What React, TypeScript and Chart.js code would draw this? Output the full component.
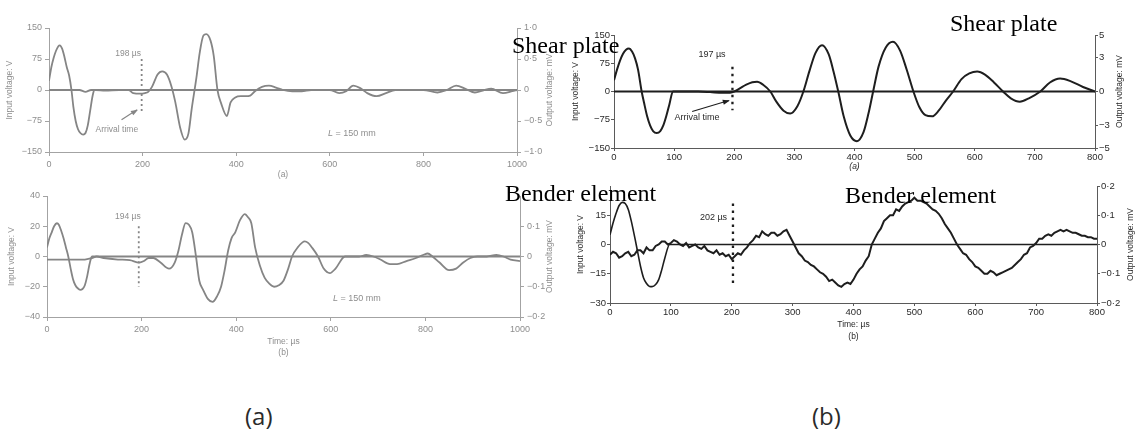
import React, { useEffect, useRef } from 'react';
import { Chart, registerables } from 'chart.js';

Chart.register(...registerables);

const SANS = "'Liberation Sans', Arial, sans-serif";
const SERIF = "'Liberation Serif', 'Times New Roman', serif";

// ---------------- Left column (a) top: shear plate, L = 150 mm ----------------
const ltTimeTicks = [0, 200, 400, 600, 800, 1000];
const ltInputTicks = [-150, -75, 0, 75, 150];
const ltOutputTicks = [-1, -0.5, 0, 0.5, 1];
const ltInputTime = [0, 5, 10, 15, 20, 23, 28, 33, 38, 43, 48, 52, 57, 62, 67, 73, 78, 83, 88, 93, 97, 1000];
const ltInputV = [22, 55, 78, 95, 106, 108, 100, 80, 55, 35, 0, -40, -75, -95, -104, -108, -104, -85, -50, -15, 0, 0];
const ltOutputTime = [0, 65, 78, 90, 100, 120, 150, 170, 180, 195, 205, 212, 220, 232, 242, 252, 262, 270, 280, 290, 298, 305, 315, 322, 330, 336, 345, 352, 360, 368, 380, 388, 398, 410, 420, 430, 440, 455, 470, 485, 500, 520, 540, 560, 600, 620, 635, 650, 665, 680, 700, 720, 740, 800, 830, 850, 870, 890, 910, 930, 945, 970, 990, 1000];
const ltOutputMV = [0, 0, -0.03, 0, 0, -0.01, 0, 0, -0.05, -0.06, -0.05, -0.03, 0.05, 0.25, 0.3, 0.25, 0.05, -0.2, -0.6, -0.8, -0.7, -0.3, 0.2, 0.6, 0.88, 0.9, 0.8, 0.55, 0, -0.22, -0.42, -0.2, -0.12, -0.1, -0.1, -0.09, -0.02, 0.05, 0.07, 0.04, 0, -0.02, -0.02, 0, 0, -0.05, -0.02, 0.07, 0.03, -0.05, -0.1, -0.05, 0, 0, -0.04, 0, 0.07, 0.02, -0.04, 0, 0.02, -0.05, -0.02, 0];

// ---------------- Left column (b) bottom: bender element, L = 150 mm ----------------
const lbTimeTicks = [0, 200, 400, 600, 800, 1000];
const lbInputTicks = [-40, -20, 0, 20, 40];
const lbOutputTicks = [-0.2, -0.1, 0, 0.1];
const lbInputTime = [0, 5, 10, 15, 21, 25, 30, 35, 40, 45, 50, 55, 60, 65, 70, 75, 80, 85, 90, 95, 1000];
const lbInputV = [6, 12, 16, 20, 22, 21, 17, 12, 6, 0, -8, -15, -19, -21, -22, -21.5, -19, -13, -5, 0, 0];
const lbOutputTime = [0, 50, 80, 95, 105, 120, 150, 175, 195, 205, 215, 225, 240, 258, 270, 278, 285, 293, 300, 307, 315, 322, 330, 340, 350, 360, 368, 375, 383, 390, 398, 408, 418, 425, 432, 440, 450, 460, 470, 480, 490, 500, 510, 518, 530, 545, 552, 560, 573, 585, 598, 610, 630, 660, 675, 690, 705, 725, 740, 760, 780, 795, 805, 815, 830, 850, 865, 880, 895, 910, 930, 950, 965, 980, 1000];
const lbOutputMV = [-0.01, -0.01, -0.01, -0.005, 0, -0.005, -0.01, -0.012, -0.02, -0.015, -0.005, -0.005, -0.02, -0.04, -0.02, 0.02, 0.07, 0.11, 0.105, 0.08, 0, -0.08, -0.11, -0.14, -0.15, -0.13, -0.1, -0.05, 0.02, 0.06, 0.08, 0.12, 0.14, 0.13, 0.11, 0.03, -0.03, -0.07, -0.09, -0.1, -0.095, -0.08, -0.04, 0, 0.03, 0.05, 0.045, 0.03, 0, -0.04, -0.055, -0.04, 0, 0, 0.005, 0, -0.01, -0.025, -0.025, -0.015, -0.005, 0.005, 0.01, 0, -0.02, -0.045, -0.04, -0.02, -0.005, 0, 0, 0.005, 0, -0.01, -0.015];

// ---------------- Right column (a) top: shear plate ----------------
const rtTimeTicks = [0, 100, 200, 300, 400, 500, 600, 700, 800];
const rtInputTicks = [-150, -75, 0, 75, 150];
const rtOutputTicks = [-5, -3, 0, 3, 5];
const rtInputTime = [0, 5, 10, 15, 20, 25, 30, 35, 40, 46, 50, 55, 60, 65, 71, 77, 82, 87, 92, 98, 800];
const rtInputV = [30, 58, 82, 100, 111, 114, 106, 88, 58, 0, -30, -65, -90, -105, -110, -105, -90, -65, -35, 0, 0];
const rtOutputTime = [0, 140, 160, 180, 193, 200, 210, 220, 230, 238, 248, 260, 270, 282, 293, 305, 315, 325, 335, 346, 357, 365, 373, 382, 393, 404, 415, 423, 431, 440, 452, 464, 476, 487, 498, 508, 518, 529, 540, 552, 564, 578, 591, 604, 617, 632, 647, 660, 675, 690, 709, 725, 742, 760, 780, 800];
const rtOutputMV = [0, 0, -0.05, -0.12, -0.1, 0, 0.3, 0.6, 0.82, 0.87, 0.6, 0, -0.9, -1.7, -1.95, -1.3, 0, 1.8, 3.4, 4.1, 3.3, 1.8, 0, -2.2, -3.9, -4.4, -3.6, -2.0, 0, 2.2, 3.9, 4.4, 3.6, 1.9, 0, -1.4, -2.1, -2.2, -1.7, -0.8, 0, 1.1, 1.6, 1.77, 1.5, 0.8, 0, -0.6, -0.9, -0.6, 0, 0.8, 1.15, 0.9, 0.4, 0];

// ---------------- Right column (b) bottom: bender element ----------------
const rbTimeTicks = [0, 100, 200, 300, 400, 500, 600, 700, 800];
const rbInputTicks = [-30, -15, 0, 15];
const rbOutputTicks = [-0.2, -0.1, 0, 0.1, 0.2];
const rbInputTime = [0, 5, 10, 15, 20, 25, 30, 35, 43, 50, 55, 60, 65, 69, 75, 80, 85, 90, 98, 800];
const rbInputV = [5, 11, 16, 20, 21.6, 21, 18, 12, 0, -11, -17, -20, -21.5, -21.6, -20.5, -18, -13, -7, 0, 0];
const rbOutputStep = 5; // µs between samples of the recorded trace
const rbOutputMV = [
  -0.035, -0.025, -0.03, -0.045, -0.04, -0.03, -0.025, -0.04, -0.035, -0.02,
  -0.02, -0.03, -0.01, -0.02, -0.02, -0.005, 0.0, 0.01, 0.01, 0.0,
  0.005, 0.015, 0.01, 0.0, -0.005, 0.005, -0.01, -0.005, 0.0, -0.01,
  -0.015, -0.005, -0.02, -0.025, -0.03, -0.02, -0.035, -0.03, -0.04, -0.035,
  -0.05, -0.04, -0.03, -0.035, -0.02, -0.01, 0.005, 0.015, 0.03, 0.025,
  0.045, 0.035, 0.03, 0.04, 0.04, 0.03, 0.035, 0.045, 0.05, 0.03,
  0.01, -0.01, -0.03, -0.04, -0.055, -0.06, -0.07, -0.075, -0.085, -0.095,
  -0.1, -0.11, -0.125, -0.12, -0.13, -0.14, -0.145, -0.135, -0.13, -0.135,
  -0.12, -0.1, -0.085, -0.075, -0.055, -0.04, 0.0, 0.02, 0.04, 0.055,
  0.08, 0.09, 0.1, 0.1, 0.12, 0.115, 0.13, 0.14, 0.145, 0.15,
  0.16, 0.15, 0.15, 0.145, 0.14, 0.13, 0.12, 0.115, 0.105, 0.09,
  0.07, 0.055, 0.04, 0.02, 0.0, -0.015, -0.03, -0.035, -0.05, -0.06,
  -0.075, -0.08, -0.09, -0.1, -0.1, -0.09, -0.095, -0.105, -0.1, -0.095,
  -0.09, -0.085, -0.08, -0.07, -0.06, -0.05, -0.035, -0.03, -0.01, -0.005,
  0.005, 0.02, 0.02, 0.03, 0.035, 0.03, 0.04, 0.045, 0.05, 0.045,
  0.05, 0.045, 0.04, 0.04, 0.035, 0.03, 0.03, 0.025, 0.025, 0.02,
  0.02,
];
const rbOutputTime = rbOutputMV.map((_, i) => i * rbOutputStep);

// ---------------- Annotations (in data units) ----------------
const ltMarker = { time: 198, from: 75, to: -55, label: '198 µs', labelT: 169, labelV: 88 };
const ltArrival = { text: 'Arrival time', t: 145, v: -97, fromT: 155, fromV: -72, toT: 188, toV: -48 };
const ltLength = { t: 647, v: -106 };
const lbMarker = { time: 194, from: 20, to: -20, label: '194 µs', labelT: 171, labelV: 26.5 };
const lbLength = { t: 655, v: -28 };
const rtMarker = { time: 197, from: 66, to: -50, label: '197 µs', labelT: 163, labelV: 97 };
const rtArrival = { text: 'Arrival time', t: 138, v: -69, fromT: 130, fromV: -53, toT: 191, toV: -24 };
const rbMarker = { time: 202, from: 21, to: -22, label: '202 µs', labelT: 170, labelV: 14 };

type Theme = { trace: string; axis: string; text: string };
const GREY: Theme = { trace: '#858585', axis: '#a3a3a3', text: '#8e8e8e' };
const DARK: Theme = { trace: '#1e1e1e', axis: '#5a5a5a', text: '#2a2a2a' };

const zip = (t: number[], v: number[]) => t.map((x, i) => ({ x, y: v[i] }));
const fmtInt = (v: number) => (v < 0 ? '\u2212' : '') + Math.abs(v);
const fmtDot = (v: number) => (v === 0 ? '0' : (v < 0 ? '\u2212' : '') + Math.abs(v).toFixed(1).replace('.', '\u00b7'));

interface Marker { time: number; from: number; to: number; label: string; labelT: number; labelV: number }
interface Arrival { text: string; t: number; v: number; fromT: number; fromV: number; toT: number; toV: number }

interface PanelSpec {
  left: number; top: number; width: number; height: number;
  leftW: number; rightW: number; xH: number; padTop: number;
  xMax: number; xTicks: number[]; xTitle: string[]; xTitlePad: number; xTitleItalic: boolean;
  yMin: number; yMax: number; yTicks: number[]; yTitlePad: number;
  y1Min: number; y1Max: number; y1Ticks: number[]; y1TitleOffset: number;
  y1Fmt: (v: number) => string;
  theme: Theme; tickSize: number; titleSize: number; titleLH: number; tickLen: number; tickPad: number;
  input: { x: number; y: number }[]; output: { x: number; y: number }[];
  inputWidth: number; outputWidth: number; outputSmooth: boolean;
  marker: Marker; dash: number[]; dashWidth: number; noteSize: number;
  arrival?: Arrival; length?: { t: number; v: number };
}

const panels: PanelSpec[] = [
  {
    left: 0, top: 8, width: 560, height: 174, leftW: 49, rightW: 43, xH: 30, padTop: 20,
    xMax: 1000, xTicks: ltTimeTicks, xTitle: ['(a)'], xTitlePad: 2, xTitleItalic: false,
    yMin: -150, yMax: 150, yTicks: ltInputTicks, yTitlePad: 5,
    y1Min: -1, y1Max: 1, y1Ticks: ltOutputTicks, y1TitleOffset: 10, y1Fmt: fmtDot,
    theme: GREY, tickSize: 9, titleSize: 8.5, titleLH: 1.2, tickLen: 4, tickPad: 3,
    input: zip(ltInputTime, ltInputV), output: zip(ltOutputTime, ltOutputMV),
    inputWidth: 1.8, outputWidth: 1.8, outputSmooth: true,
    marker: ltMarker, dash: [2, 3], dashWidth: 1.8, noteSize: 8.5, arrival: ltArrival, length: ltLength,
  },
  {
    left: 0, top: 180, width: 560, height: 180, leftW: 47, rightW: 40, xH: 43, padTop: 16,
    xMax: 1000, xTicks: lbTimeTicks, xTitle: ['Time: µs', '(b)'], xTitlePad: 2, xTitleItalic: false,
    yMin: -40, yMax: 40, yTicks: lbInputTicks, yTitlePad: 6,
    y1Min: -0.2, y1Max: 0.2, y1Ticks: lbOutputTicks, y1TitleOffset: 10, y1Fmt: fmtDot,
    theme: GREY, tickSize: 9, titleSize: 8.5, titleLH: 1.3, tickLen: 4, tickPad: 3,
    input: zip(lbInputTime, lbInputV), output: zip(lbOutputTime, lbOutputMV),
    inputWidth: 1.8, outputWidth: 1.8, outputSmooth: true,
    marker: lbMarker, dash: [2, 3], dashWidth: 1.8, noteSize: 8.5, length: lbLength,
  },
  {
    left: 570, top: 10, width: 566, height: 170, leftW: 44, rightW: 41, xH: 32, padTop: 25,
    xMax: 800, xTicks: rtTimeTicks, xTitle: ['(a)'], xTitlePad: 8, xTitleItalic: true,
    yMin: -150, yMax: 150, yTicks: rtInputTicks, yTitlePad: 1,
    y1Min: -5, y1Max: 5, y1Ticks: rtOutputTicks, y1TitleOffset: 16, y1Fmt: fmtInt,
    theme: DARK, tickSize: 9.5, titleSize: 8.5, titleLH: 1.2, tickLen: 3, tickPad: 1,
    input: zip(rtInputTime, rtInputV), output: zip(rtOutputTime, rtOutputMV),
    inputWidth: 2, outputWidth: 2, outputSmooth: true,
    marker: rtMarker, dash: [2.5, 4.5], dashWidth: 2.3, noteSize: 9, arrival: rtArrival,
  },
  {
    left: 566, top: 176, width: 570, height: 184, leftW: 44, rightW: 39, xH: 57, padTop: 10,
    xMax: 800, xTicks: rbTimeTicks, xTitle: ['Time: µs', '(b)'], xTitlePad: 17, xTitleItalic: false,
    yMin: -30, yMax: 30, yTicks: rbInputTicks, yTitlePad: 8,
    y1Min: -0.2, y1Max: 0.2, y1Ticks: rbOutputTicks, y1TitleOffset: 5, y1Fmt: fmtDot,
    theme: DARK, tickSize: 9.5, titleSize: 8.5, titleLH: 1.45, tickLen: 3, tickPad: 1,
    input: zip(rbInputTime, rbInputV), output: zip(rbOutputTime, rbOutputMV),
    inputWidth: 1.6, outputWidth: 2, outputSmooth: false,
    marker: rbMarker, dash: [2.5, 4.5], dashWidth: 2.3, noteSize: 9,
  },
];

function Panel({ spec }: { spec: PanelSpec }) {
  const ref = useRef<HTMLCanvasElement>(null);
  useEffect(() => {
    const canvas = ref.current;
    if (!canvas) return;
    const th = spec.theme;
    const tickFont = { family: SANS, size: spec.tickSize };
    const titleFont = { family: SANS, size: spec.titleSize, lineHeight: spec.titleLH };
    const fixTicks = (vals: number[]) => (s: any) => {
      s.ticks = vals.map((v) => ({ value: v }));
    };
    const grid = { display: true, drawOnChartArea: false, drawTicks: true, tickLength: spec.tickLen, color: th.axis, lineWidth: 1 };
    const border = { display: true, color: th.axis, width: 1 };

    const notes = {
      id: 'notes',
      afterDatasetsDraw(chart: any) {
        const ctx = chart.ctx as CanvasRenderingContext2D;
        const xs = chart.scales.x;
        const ys = chart.scales.y;
        const px = (t: number) => xs.getPixelForValue(t);
        const py = (v: number) => ys.getPixelForValue(v);
        const m = spec.marker;
        ctx.save();
        ctx.strokeStyle = th.trace;
        ctx.lineWidth = spec.dashWidth;
        ctx.setLineDash(spec.dash);
        ctx.beginPath();
        ctx.moveTo(px(m.time), py(m.from));
        ctx.lineTo(px(m.time), py(m.to));
        ctx.stroke();
        ctx.setLineDash([]);
        ctx.fillStyle = th.text;
        ctx.font = `${spec.noteSize}px ${SANS}`;
        ctx.textAlign = 'center';
        ctx.textBaseline = 'middle';
        ctx.fillText(m.label, px(m.labelT), py(m.labelV));
        const a = spec.arrival;
        if (a) {
          ctx.fillText(a.text, px(a.t), py(a.v));
          const x0 = px(a.fromT), y0 = py(a.fromV), x1 = px(a.toT), y1 = py(a.toV);
          ctx.strokeStyle = th.trace;
          ctx.lineWidth = 1.2;
          ctx.beginPath();
          ctx.moveTo(x0, y0);
          ctx.lineTo(x1, y1);
          ctx.stroke();
          const ang = Math.atan2(y1 - y0, x1 - x0);
          const hl = 6, hw = 2.6;
          ctx.fillStyle = th.trace;
          ctx.beginPath();
          ctx.moveTo(x1 + 1, y1);
          ctx.lineTo(x1 - hl * Math.cos(ang) + hw * Math.sin(ang), y1 - hl * Math.sin(ang) - hw * Math.cos(ang));
          ctx.lineTo(x1 - hl * Math.cos(ang) - hw * Math.sin(ang), y1 - hl * Math.sin(ang) + hw * Math.cos(ang));
          ctx.closePath();
          ctx.fill();
        }
        const L = spec.length;
        if (L) {
          ctx.fillStyle = th.text;
          const fa = `italic ${spec.noteSize + 0.5}px ${SANS}`;
          const fb = `${spec.noteSize + 0.5}px ${SANS}`;
          ctx.font = fa;
          const wa = ctx.measureText('L').width;
          ctx.font = fb;
          const rest = ' = 150 mm';
          const wb = ctx.measureText(rest).width;
          let sx = px(L.t) - (wa + wb) / 2;
          const sy = py(L.v);
          ctx.textAlign = 'left';
          ctx.font = fa;
          ctx.fillText('L', sx, sy);
          ctx.font = fb;
          ctx.fillText(rest, sx + wa, sy);
        }
        // right-hand axis title, reading bottom to top
        const area = chart.chartArea;
        ctx.fillStyle = th.text;
        ctx.font = `${spec.titleSize}px ${SANS}`;
        ctx.textAlign = 'center';
        ctx.textBaseline = 'middle';
        ctx.translate(chart.width - spec.y1TitleOffset, (area.top + area.bottom) / 2);
        ctx.rotate(-Math.PI / 2);
        ctx.fillText('Output voltage: mV', 0, 0);
        ctx.restore();
      },
    };

    const chart = new Chart(canvas, {
      type: 'line',
      data: {
        datasets: [
          {
            data: spec.output, yAxisID: 'y1', borderColor: th.trace, borderWidth: spec.outputWidth,
            pointRadius: 0, fill: false, tension: spec.outputSmooth ? 0.4 : 0,
            cubicInterpolationMode: spec.outputSmooth ? 'monotone' : 'default',
          } as any,
          {
            data: spec.input, yAxisID: 'y', borderColor: th.trace, borderWidth: spec.inputWidth,
            pointRadius: 0, fill: false, tension: 0.4, cubicInterpolationMode: 'monotone',
          } as any,
        ],
      },
      options: {
        responsive: false,
        animation: false,
        events: [],
        layout: { padding: { top: spec.padTop, left: 0, right: 0, bottom: 0 } },
        plugins: { legend: { display: false }, tooltip: { enabled: false }, title: { display: false } },
        scales: {
          x: {
            type: 'linear', min: 0, max: spec.xMax,
            afterBuildTicks: fixTicks(spec.xTicks),
            afterFit: (s: any) => { s.height = spec.xH; },
            grid, border,
            ticks: { color: th.text, font: tickFont, padding: spec.tickPad, autoSkip: false, maxRotation: 0, callback: (v: any) => String(v) },
            title: {
              display: true, text: spec.xTitle, color: th.text,
              font: { ...titleFont, style: spec.xTitleItalic ? 'italic' : 'normal' },
              padding: { top: 0, bottom: spec.xTitlePad },
            },
          },
          y: {
            type: 'linear', position: 'left', min: spec.yMin, max: spec.yMax,
            afterBuildTicks: fixTicks(spec.yTicks),
            afterFit: (s: any) => { s.width = spec.leftW; },
            grid, border,
            ticks: { color: th.text, font: tickFont, padding: spec.tickPad, callback: (v: any) => fmtInt(Number(v)) },
            title: { display: true, text: 'Input voltage: V', color: th.text, font: titleFont, padding: { top: spec.yTitlePad, bottom: 0 } },
          },
          y1: {
            type: 'linear', position: 'right', min: spec.y1Min, max: spec.y1Max,
            afterBuildTicks: fixTicks(spec.y1Ticks),
            afterFit: (s: any) => { s.width = spec.rightW; },
            grid, border,
            ticks: { color: th.text, font: tickFont, padding: spec.tickPad, callback: (v: any) => spec.y1Fmt(Number(v)) },
            title: { display: false },
          },
        },
      } as any,
      plugins: [notes],
    });
    return () => chart.destroy();
  }, [spec]);
  return (
    <canvas
      ref={ref}
      width={spec.width}
      height={spec.height}
      style={{ position: 'absolute', left: spec.left, top: spec.top, width: spec.width, height: spec.height }}
    />
  );
}

const serifLabel = (text: string, left: number, top: number) => (
  <div
    key={`${text}-${left}`}
    style={{ position: 'absolute', left, top, fontFamily: SERIF, fontSize: 24, lineHeight: 1, color: '#000', whiteSpace: 'nowrap', zIndex: 2 }}
  >
    {text}
  </div>
);

const partLabel = (text: string, left: number, top: number) => (
  <div
    key={text}
    style={{ position: 'absolute', left, top, fontFamily: "'Open Sans', 'Noto Sans', sans-serif", fontSize: 24, lineHeight: 1, color: '#2a2a2a', whiteSpace: 'nowrap' }}
  >
    {text}
  </div>
);

export default function App() {
  return (
    <div style={{ position: 'fixed', left: 0, top: 0, width: 1136, height: 434, background: '#fff', overflow: 'hidden' }}>
      {panels.map((p, i) => (
        <Panel key={i} spec={p} />
      ))}
      {serifLabel('Shear plate', 512, 33)}
      {serifLabel('Shear plate', 950, 11)}
      {serifLabel('Bender element', 505, 181)}
      {serifLabel('Bender element', 845, 183)}
      {partLabel('(a)', 245, 404)}
      {partLabel('(b)', 812, 404)}
    </div>
  );
}
